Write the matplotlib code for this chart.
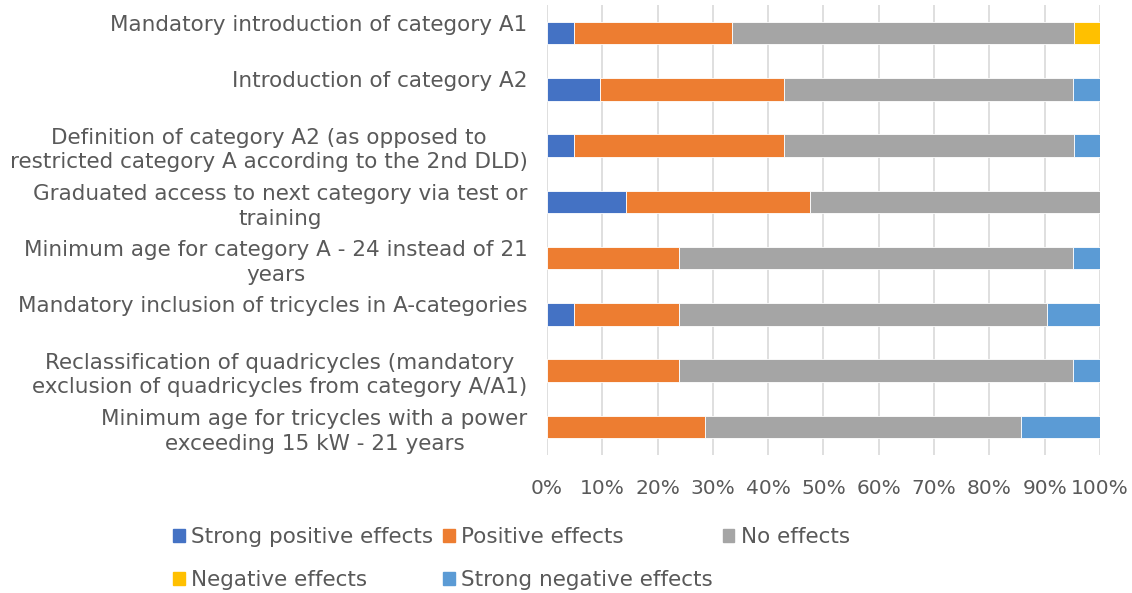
import matplotlib.pyplot as plt
from matplotlib.patches import Patch
import numpy as np

categories = [
    "Mandatory introduction of category A1\n ",
    "Introduction of category A2\n ",
    "Definition of category A2 (as opposed to\nrestricted category A according to the 2nd DLD)",
    "Graduated access to next category via test or\ntraining",
    "Minimum age for category A - 24 instead of 21\nyears",
    "Mandatory inclusion of tricycles in A-categories\n ",
    "Reclassification of quadricycles (mandatory\nexclusion of quadricycles from category A/A1)",
    "Minimum age for tricycles with a power\nexceeding 15 kW - 21 years",
]

series_names = ["Strong positive effects", "Positive effects", "No effects",
                "Negative effects", "Strong negative effects"]
colors = ["#4472C4", "#ED7D31", "#A5A5A5", "#FFC000", "#5B9BD5"]

# shares in percent
strong_positive = [4.8, 9.5, 4.8, 14.3, 0.0, 4.8, 0.0, 0.0]
positive = [28.6, 33.3, 38.1, 33.3, 23.8, 19.0, 23.8, 28.6]
no_effects = [61.9, 52.4, 52.4, 52.4, 71.4, 66.7, 71.4, 57.1]
negative = [4.8, 0.0, 0.0, 0.0, 0.0, 0.0, 0.0, 0.0]
strong_negative = [0.0, 4.8, 4.8, 0.0, 4.8, 9.5, 4.8, 14.3]

series = [strong_positive, positive, no_effects, negative, strong_negative]

text_col = "#595959"
plt.rcParams["font.family"] = "DejaVu Sans"

fig = plt.figure(figsize=(11.32, 5.93), dpi=100)
ax = fig.add_axes([0.4832, 0.2327, 0.4885, 0.7589])

y = np.arange(len(categories))
left = np.zeros(len(categories))
for vals, name, c in zip(series, series_names, colors):
    vals = np.array(vals)
    ax.barh(y, vals, left=left, height=0.4, color=c, label=name,
            edgecolor="white", linewidth=0.6, zorder=3)
    left += vals

ax.set_ylim(len(categories) - 0.5, -0.5)
ax.set_xlim(0, 100)
ax.set_xticks(np.arange(0, 101, 10))
ax.set_xticklabels([f"{v}%" for v in range(0, 101, 10)])
ax.set_yticks(y)
ax.set_yticklabels(categories, ha="right", multialignment="center",
                   fontsize=15.5, linespacing=1.3)
ax.tick_params(axis="both", length=0, colors=text_col)
ax.tick_params(axis="x", labelsize=14.5, pad=17)
ax.tick_params(axis="y", pad=14)
ax.xaxis.grid(True, color="#D9D9D9", linewidth=1.2, zorder=0)
for s in ax.spines.values():
    s.set_visible(False)

order = [0, 3, 1, 4, 2]
handles = [Patch(color=colors[i], label=series_names[i]) for i in order]
leg = fig.legend(handles=handles, loc="upper left", bbox_to_anchor=(0.145, 0.125),
                 ncol=3, frameon=False, fontsize=15.5, handlelength=0.55,
                 handleheight=0.55, handletextpad=0.3, columnspacing=0.45,
                 labelspacing=1.05, borderaxespad=0)
for t in leg.get_texts():
    t.set_color(text_col)

fig.savefig("out.png", dpi=100)
